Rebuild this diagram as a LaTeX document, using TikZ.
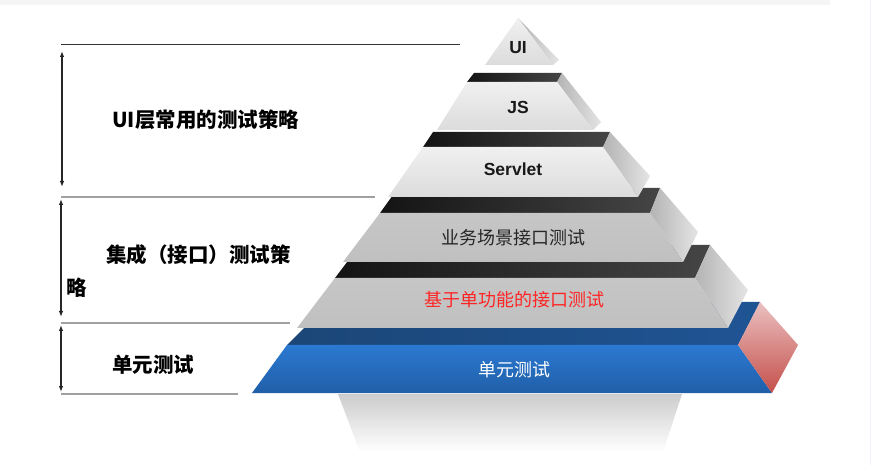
\documentclass[tikz,border=0pt]{standalone}
\usepackage{fontspec}
\setmainfont{Liberation Sans}
\newfontfamily\cjk{Noto Sans CJK SC}
\usetikzlibrary{arrows.meta}
\definecolor{bandL}{HTML}{141414}
\definecolor{bandR}{HTML}{454545}
\definecolor{sideL}{HTML}{B4B4B4}
\definecolor{sideR}{HTML}{E4E4E4}
\definecolor{lightT}{HTML}{F0F0F0}
\definecolor{lightB}{HTML}{DCDCDC}
\definecolor{midT}{HTML}{C6C6C6}
\definecolor{midB}{HTML}{C0C0C0}
\definecolor{blueBandL}{HTML}{1B4677}
\definecolor{blueBandR}{HTML}{1F5494}
\definecolor{blueT}{HTML}{2B79D2}
\definecolor{blueB}{HTML}{205FA8}
\definecolor{pinkT}{HTML}{EAC0C0}
\definecolor{pinkB}{HTML}{C5504B}
\definecolor{redtxt}{HTML}{FF2525}
\definecolor{linegray}{HTML}{A0A0A0}
\tikzset{
  band/.style={left color=bandL, right color=bandR},
  sideface/.style={left color=sideL, right color=sideR},
  lightface/.style={top color=lightT, bottom color=lightB},
  midface/.style={top color=midT, bottom color=midB},
  latinlbl/.style={font=\fontsize{17.5}{19}\selectfont\bfseries, text=black!90, inner sep=0pt},
  cjklbl/.style={font=\cjk\fontsize{18}{20}\selectfont, inner sep=0pt},
  sidelbl/.style={font=\cjk\bfseries\fontsize{20.5}{24}\selectfont, text=black, inner sep=0pt, anchor=west},
  hline/.style={draw=linegray, line width=1.2pt},
  topline/.style={draw=black!80, line width=1pt},
  darr/.style={draw=black!85, line width=1.1pt, {Latex[length=6pt,width=4.5pt]}-{Latex[length=6pt,width=4.5pt]}}
}
\begin{document}
\begin{tikzpicture}[x=1pt,y=-1pt]
\useasboundingbox (0,0) rectangle (871,465);
\fill[white] (0,0) rectangle (871,465);
\fill[black!4] (0,0) rectangle (830,5);
\fill[blue!6] (869.5,0) rectangle (871,465);
% shadow
\shade[top color=black!20, bottom color=white] (338,394) -- (682,394) -- (663,452) -- (360,452) -- cycle;
% base blue layer
\shade[left color=blueBandL, right color=blueBandR] (330,302) -- (760,302) -- (738,345) -- (287,345) -- cycle;
\shade[top color=blueT, bottom color=blueB] (287,345) -- (738,345) -- (772,393) -- (252,393) -- cycle;
\shade[top color=pinkT, bottom color=pinkB] (760,302) -- (798,345) -- (772,393) -- (738,345) -- cycle;
% layer 基于
\shade[band] (360,245) -- (710,245) -- (695,278) -- (335,278) -- cycle;
\shade[sideface] (710,245) -- (748,290) -- (728,328) -- (695,278) -- cycle;
\shade[midface] (335,278) -- (695,278) -- (728,328) -- (297,328) -- cycle;
% layer 业务
\shade[band] (398,188) -- (660,188) -- (650,213) -- (380,213) -- cycle;
\shade[sideface] (660,188) -- (698,232) -- (683,262) -- (650,213) -- cycle;
\shade[midface] (380,213) -- (650,213) -- (683,262) -- (343,262) -- cycle;
% layer Servlet
\shade[band] (433,132) -- (610,132) -- (603,147) -- (423,147) -- cycle;
\shade[sideface] (610,132) -- (650,176) -- (638,197) -- (603,147) -- cycle;
\shade[lightface] (423,147) -- (603,147) -- (638,197) -- (388,197) -- cycle;
% layer JS
\shade[band] (474,73) -- (562,73) -- (557,82) -- (467,82) -- cycle;
\shade[sideface] (562,73) -- (601,122) -- (593,130) -- (557,82) -- cycle;
\shade[lightface] (467,82) -- (557,82) -- (593,130) -- (437,130) -- cycle;
% layer UI
\shade[sideface] (518,18) -- (559,60) -- (553,65) -- cycle;
\shade[lightface] (518,18) -- (553,65) -- (485,65) -- cycle;
% pyramid texts
\node[latinlbl] (tUI) at (518,48) {UI};
\node[latinlbl] (tJS) at (518,107) {JS};
\node[latinlbl] (tSv) at (513,169) {Servlet};
\node[cjklbl, text=black!85] (tYW) at (513,238) {业务场景接口测试};
\node[cjklbl, text=redtxt] (tJY) at (514,300) {基于单功能的接口测试};
\node[cjklbl, text=white] (tDY) at (514,370) {单元测试};
% left annotations
\coordinate (h1a) at (61,45);  \coordinate (h1b) at (460,45);
\coordinate (h2a) at (61,197); \coordinate (h2b) at (375,197);
\coordinate (h3a) at (61,323); \coordinate (h3b) at (290,323);
\coordinate (h4a) at (61,394); \coordinate (h4b) at (238,394);
\draw[topline] (h1a) -- (h1b);
\draw[hline] (h2a) -- (h2b);
\draw[hline] (h3a) -- (h3b);
\draw[hline] (h4a) -- (h4b);
\coordinate (a1t) at (62,51);  \coordinate (a1b) at (62,187);
\coordinate (a2t) at (61,199); \coordinate (a2b) at (61,317);
\coordinate (a3t) at (61,325); \coordinate (a3b) at (61,392);
\draw[darr] (a1t) -- (a1b);
\draw[darr] (a2t) -- (a2b);
\draw[darr] (a3t) -- (a3b);
\node[sidelbl] (L1) at (112,120) {UI层常用的测试策略};
\node[sidelbl] (L2) at (106,255) {集成（接口）测试策};
\node[sidelbl] (L2b) at (66,288) {略};
\node[sidelbl] (L3) at (112,365) {单元测试};
\end{tikzpicture}
\end{document}
